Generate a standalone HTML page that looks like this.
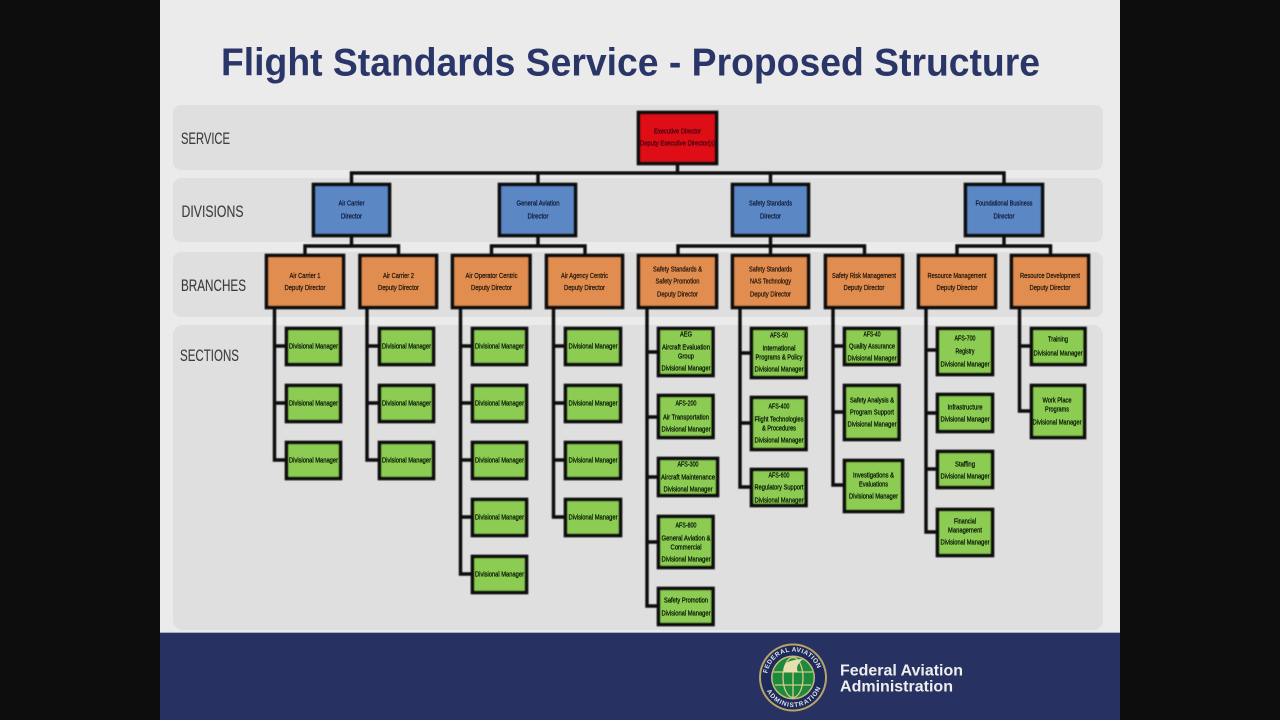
<!DOCTYPE html>
<html><head><meta charset="utf-8"><title>Flight Standards Service - Proposed Structure</title>
<style>
html,body{margin:0;padding:0;width:1280px;height:720px;overflow:hidden;background:#0d0d0d}
svg{display:block}
text{font-family:"Liberation Sans",sans-serif}
.l{font-size:16.5px;fill:#3c3c3c;stroke:#3c3c3c;stroke-width:.12}
.r,.b,.o,.g{text-anchor:middle;font-size:7.5px}
.r{fill:#4a0610;stroke:#4a0610;stroke-width:.3}
.b{fill:#0b1a38;stroke:#0b1a38;stroke-width:.25}
.o{fill:#22150a;stroke:#22150a;stroke-width:.25}
.g{fill:#051203;stroke:#051203;stroke-width:.25}
.bx{stroke:#0a0a0a;stroke-width:3.600}
.ln{stroke:#0a0a0a;stroke-width:3.400;fill:none;stroke-linejoin:miter}
</style></head><body>
<svg width="1280" height="720" viewBox="0 0 1280 720" xmlns="http://www.w3.org/2000/svg">
<defs>
<filter id="s" x="-2%" y="-2%" width="104%" height="104%"><feGaussianBlur stdDeviation="0.4"/></filter>
<filter id="t" x="-2%" y="-2%" width="104%" height="104%"><feGaussianBlur stdDeviation="0.3"/></filter>
<path id="arcTop" d="M767 677.5 A26 26 0 0 1 819 677.500"/>
<path id="arcBot" d="M763.500 677.5 A29.500 29.500 0 0 0 822.500 677.500"/>
</defs>
<rect x="160" y="0" width="960" height="720" fill="#ebebeb"/>
<text x="221" y="75.500" font-size="38.500" font-weight="bold" fill="#2a3668" textLength="819" lengthAdjust="spacingAndGlyphs">Flight Standards Service - Proposed Structure</text>
<g fill="#dfdfdf">
<rect x="173" y="105" width="930" height="65" rx="8"/>
<rect x="173" y="178" width="930" height="64" rx="8"/>
<rect x="173" y="252" width="930" height="65" rx="8"/>
<rect x="173" y="325" width="930" height="305" rx="10"/>
</g>
<g filter="url(#t)">
<text class="l" x="181" y="144" textLength="49" lengthAdjust="spacingAndGlyphs">SERVICE</text>
<text class="l" x="181.500" y="217" textLength="62" lengthAdjust="spacingAndGlyphs">DIVISIONS</text>
<text class="l" x="181" y="291" textLength="65" lengthAdjust="spacingAndGlyphs">BRANCHES</text>
<text class="l" x="180" y="361" textLength="59" lengthAdjust="spacingAndGlyphs">SECTIONS</text>
</g>
<g filter="url(#s)">
<g class="ln">
<path d="M677.500 165V173M351.500 183V173H1004V183M538 173V183M770.500 173V183"/>
<path d="M351.500 237V246M305 254V246H398.500V254"/>
<path d="M538 237V246M491.500 254V246H585V254"/>
<path d="M770.500 237V246M678 254V246H864.500V254M770.500 246V254"/>
<path d="M1004 237V246M957 254V246H1050.500V254"/>
<path d="M274.500 309V460H285M274.500 346H285M274.500 403H285"/>
<path d="M367 309V460H378M367 346H378M367 403H378"/>
<path d="M460.500 309V574H471M460.500 346H471M460.500 403H471M460.500 460H471M460.500 517H471"/>
<path d="M553.500 309V517H564M553.500 346H564M553.500 403H564M553.500 460H564"/>
<path d="M647 309V606H657M647 352H657M647 417H657M647 477H657M647 542H657"/>
<path d="M740 309V487H750M740 353H750M740 423H750"/>
<path d="M833 309V485H843M833 346H843M833 412H843"/>
<path d="M926 309V532H936M926 350H936M926 413H936M926 469H936"/>
<path d="M1019.500 309V411H1030M1019.500 346H1030"/>
</g>
<rect class="bx" x="638.500" y="112.500" width="78" height="51" fill="#de0a16"/>
<g fill="#5b87c5">
<rect class="bx" x="313.500" y="184.500" width="76" height="51"/>
<rect class="bx" x="499.500" y="184.500" width="76" height="51"/>
<rect class="bx" x="732.500" y="184.500" width="76" height="51"/>
<rect class="bx" x="965.500" y="184.500" width="77" height="51"/>
</g>
<g fill="#e08d50">
<rect class="bx" x="266.500" y="255.500" width="77" height="52"/>
<rect class="bx" x="360" y="255.500" width="76.500" height="52"/>
<rect class="bx" x="452.500" y="255.500" width="77.500" height="52"/>
<rect class="bx" x="546.500" y="255.500" width="76" height="52"/>
<rect class="bx" x="638.500" y="255.500" width="78" height="52"/>
<rect class="bx" x="732.500" y="255.500" width="76" height="52"/>
<rect class="bx" x="825.500" y="255.500" width="77" height="52"/>
<rect class="bx" x="918.500" y="255.500" width="77" height="52"/>
<rect class="bx" x="1011.500" y="255.500" width="77" height="52"/>
</g>
<g fill="#8ccc52">
<rect class="bx" x="286.500" y="328.500" width="54" height="36"/><rect class="bx" x="286.500" y="385.500" width="54" height="36"/><rect class="bx" x="286.500" y="442.500" width="54" height="36"/>
<rect class="bx" x="379.500" y="328.500" width="54" height="36"/><rect class="bx" x="379.500" y="385.500" width="54" height="36"/><rect class="bx" x="379.500" y="442.500" width="54" height="36"/>
<rect class="bx" x="472.500" y="328.500" width="54" height="36"/><rect class="bx" x="472.500" y="385.500" width="54" height="36"/><rect class="bx" x="472.500" y="442.500" width="54" height="36"/><rect class="bx" x="472.500" y="499.500" width="54" height="36"/><rect class="bx" x="472.500" y="556.500" width="54" height="36"/>
<rect class="bx" x="565.500" y="328.500" width="55" height="36"/><rect class="bx" x="565.500" y="385.500" width="55" height="36"/><rect class="bx" x="565.500" y="442.500" width="55" height="36"/><rect class="bx" x="565.500" y="499.500" width="55" height="36"/>
<rect class="bx" x="658.500" y="328.500" width="54.500" height="47"/>
<rect class="bx" x="658.500" y="395.500" width="54.500" height="42"/>
<rect class="bx" x="658.500" y="458.500" width="59" height="37"/>
<rect class="bx" x="658.500" y="516.500" width="54.500" height="51"/>
<rect class="bx" x="658.500" y="588.500" width="54.500" height="36"/>
<rect class="bx" x="751.500" y="328.500" width="54.500" height="49"/>
<rect class="bx" x="751.500" y="397.500" width="54.500" height="52"/>
<rect class="bx" x="751.500" y="469.500" width="54.500" height="36"/>
<rect class="bx" x="844.500" y="328.500" width="54.500" height="36"/>
<rect class="bx" x="844.500" y="385.500" width="54.500" height="54"/>
<rect class="bx" x="844.500" y="460.500" width="58" height="51"/>
<rect class="bx" x="937.500" y="328.500" width="55" height="46"/>
<rect class="bx" x="937.500" y="394.500" width="55" height="37"/>
<rect class="bx" x="937.500" y="451.500" width="55" height="36"/>
<rect class="bx" x="937.500" y="509.500" width="55" height="46"/>
<rect class="bx" x="1031.500" y="328.500" width="53.500" height="36"/>
<rect class="bx" x="1031.500" y="385.500" width="53" height="52"/>
</g>
</g>
<g filter="url(#t)">
<text class="r" x="677.500" y="133.500" textLength="47" lengthAdjust="spacingAndGlyphs">Executive Director</text>
<text class="r" x="677.500" y="145.500" textLength="75" lengthAdjust="spacingAndGlyphs">Deputy  Executive Director(s)</text>

<text class="b" x="351.500" y="205.500" textLength="26" lengthAdjust="spacingAndGlyphs">Air Carrier</text><text class="b" x="351.500" y="218.500" textLength="21" lengthAdjust="spacingAndGlyphs">Director</text>
<text class="b" x="538" y="205.500" textLength="43" lengthAdjust="spacingAndGlyphs">General Aviation</text><text class="b" x="538" y="218.500" textLength="21" lengthAdjust="spacingAndGlyphs">Director</text>
<text class="b" x="770.500" y="205.500" textLength="43" lengthAdjust="spacingAndGlyphs">Safety Standards</text><text class="b" x="770.500" y="218.500" textLength="21" lengthAdjust="spacingAndGlyphs">Director</text>
<text class="b" x="1004" y="205.500" textLength="57" lengthAdjust="spacingAndGlyphs">Foundational Business</text><text class="b" x="1004" y="218.500" textLength="21" lengthAdjust="spacingAndGlyphs">Director</text>

<text class="o" x="305" y="278" textLength="31" lengthAdjust="spacingAndGlyphs">Air Carrier 1</text><text class="o" x="305" y="290" textLength="41" lengthAdjust="spacingAndGlyphs">Deputy Director</text>
<text class="o" x="398.500" y="278" textLength="31" lengthAdjust="spacingAndGlyphs">Air Carrier 2</text><text class="o" x="398.500" y="290" textLength="41" lengthAdjust="spacingAndGlyphs">Deputy Director</text>
<text class="o" x="491.500" y="278" textLength="52" lengthAdjust="spacingAndGlyphs">Air Operator Centric</text><text class="o" x="491.500" y="290" textLength="41" lengthAdjust="spacingAndGlyphs">Deputy Director</text>
<text class="o" x="584.500" y="278" textLength="47" lengthAdjust="spacingAndGlyphs">Air Agency Centric</text><text class="o" x="584.500" y="290" textLength="41" lengthAdjust="spacingAndGlyphs">Deputy Director</text>
<text class="o" x="677.500" y="271.500" textLength="49" lengthAdjust="spacingAndGlyphs">Safety Standards &amp;</text><text class="o" x="677.500" y="283.500" textLength="44" lengthAdjust="spacingAndGlyphs">Safety Promotion</text><text class="o" x="677.500" y="296.500" textLength="41" lengthAdjust="spacingAndGlyphs">Deputy Director</text>
<text class="o" x="770.500" y="271.500" textLength="43" lengthAdjust="spacingAndGlyphs">Safety Standards</text><text class="o" x="770.500" y="283.500" textLength="41" lengthAdjust="spacingAndGlyphs">NAS Technology</text><text class="o" x="770.500" y="296.500" textLength="41" lengthAdjust="spacingAndGlyphs">Deputy Director</text>
<text class="o" x="864" y="278" textLength="64" lengthAdjust="spacingAndGlyphs">Safety Risk Management</text><text class="o" x="864" y="290" textLength="41" lengthAdjust="spacingAndGlyphs">Deputy Director</text>
<text class="o" x="957" y="278" textLength="59" lengthAdjust="spacingAndGlyphs">Resource Management</text><text class="o" x="957" y="290" textLength="41" lengthAdjust="spacingAndGlyphs">Deputy Director</text>
<text class="o" x="1050" y="278" textLength="60" lengthAdjust="spacingAndGlyphs">Resource Development</text><text class="o" x="1050" y="290" textLength="41" lengthAdjust="spacingAndGlyphs">Deputy Director</text>

<text class="g" x="313.500" y="348.500" textLength="49" lengthAdjust="spacingAndGlyphs">Divisional Manager</text><text class="g" x="313.500" y="405.500" textLength="49" lengthAdjust="spacingAndGlyphs">Divisional Manager</text><text class="g" x="313.500" y="462.500" textLength="49" lengthAdjust="spacingAndGlyphs">Divisional Manager</text>
<text class="g" x="406.500" y="348.500" textLength="49" lengthAdjust="spacingAndGlyphs">Divisional Manager</text><text class="g" x="406.500" y="405.500" textLength="49" lengthAdjust="spacingAndGlyphs">Divisional Manager</text><text class="g" x="406.500" y="462.500" textLength="49" lengthAdjust="spacingAndGlyphs">Divisional Manager</text>
<text class="g" x="499.500" y="348.500" textLength="49" lengthAdjust="spacingAndGlyphs">Divisional Manager</text><text class="g" x="499.500" y="405.500" textLength="49" lengthAdjust="spacingAndGlyphs">Divisional Manager</text><text class="g" x="499.500" y="462.500" textLength="49" lengthAdjust="spacingAndGlyphs">Divisional Manager</text><text class="g" x="499.500" y="519.500" textLength="49" lengthAdjust="spacingAndGlyphs">Divisional Manager</text><text class="g" x="499.500" y="576.500" textLength="49" lengthAdjust="spacingAndGlyphs">Divisional Manager</text>
<text class="g" x="593" y="348.500" textLength="49" lengthAdjust="spacingAndGlyphs">Divisional Manager</text><text class="g" x="593" y="405.500" textLength="49" lengthAdjust="spacingAndGlyphs">Divisional Manager</text><text class="g" x="593" y="462.500" textLength="49" lengthAdjust="spacingAndGlyphs">Divisional Manager</text><text class="g" x="593" y="519.500" textLength="49" lengthAdjust="spacingAndGlyphs">Divisional Manager</text>

<text class="g" x="686" y="336.500" textLength="12" lengthAdjust="spacingAndGlyphs">AEG</text><text class="g" x="686" y="349.500" textLength="48" lengthAdjust="spacingAndGlyphs">Aircraft Evaluation</text><text class="g" x="686" y="358.500" textLength="16" lengthAdjust="spacingAndGlyphs">Group</text><text class="g" x="686" y="370.500" textLength="49" lengthAdjust="spacingAndGlyphs">Divisional Manager</text>
<text class="g" x="686" y="405.500" textLength="21" lengthAdjust="spacingAndGlyphs">AFS-200</text><text class="g" x="686" y="419.500" textLength="46" lengthAdjust="spacingAndGlyphs">Air Transportation</text><text class="g" x="686" y="431.500" textLength="49" lengthAdjust="spacingAndGlyphs">Divisional Manager</text>
<text class="g" x="688" y="466.500" textLength="21" lengthAdjust="spacingAndGlyphs">AFS-300</text><text class="g" x="688" y="479.500" textLength="54" lengthAdjust="spacingAndGlyphs">Aircraft Maintenance</text><text class="g" x="688" y="491.500" textLength="49" lengthAdjust="spacingAndGlyphs">Divisional Manager</text>
<text class="g" x="686" y="527.500" textLength="21" lengthAdjust="spacingAndGlyphs">AFS-800</text><text class="g" x="686" y="540.500" textLength="49" lengthAdjust="spacingAndGlyphs">General Aviation &amp;</text><text class="g" x="686" y="549.500" textLength="31" lengthAdjust="spacingAndGlyphs">Commercial</text><text class="g" x="686" y="561.500" textLength="49" lengthAdjust="spacingAndGlyphs">Divisional Manager</text>
<text class="g" x="686" y="602.500" textLength="44" lengthAdjust="spacingAndGlyphs">Safety Promotion</text><text class="g" x="686" y="615.500" textLength="49" lengthAdjust="spacingAndGlyphs">Divisional Manager</text>

<text class="g" x="779" y="337.500" textLength="18" lengthAdjust="spacingAndGlyphs">AFS-50</text><text class="g" x="779" y="350.500" textLength="33" lengthAdjust="spacingAndGlyphs">International</text><text class="g" x="779" y="359.500" textLength="47" lengthAdjust="spacingAndGlyphs">Programs &amp; Policy</text><text class="g" x="779" y="371.500" textLength="49" lengthAdjust="spacingAndGlyphs">Divisional Manager</text>
<text class="g" x="779" y="408.500" textLength="21" lengthAdjust="spacingAndGlyphs">AFS-400</text><text class="g" x="779" y="421.500" textLength="49" lengthAdjust="spacingAndGlyphs">Flight Technologies</text><text class="g" x="779" y="430.500" textLength="34" lengthAdjust="spacingAndGlyphs">&amp; Procedures</text><text class="g" x="779" y="442.500" textLength="49" lengthAdjust="spacingAndGlyphs">Divisional Manager</text>
<text class="g" x="779" y="477.500" textLength="21" lengthAdjust="spacingAndGlyphs">AFS-600</text><text class="g" x="779" y="489.500" textLength="49" lengthAdjust="spacingAndGlyphs">Regulatory Support</text><text class="g" x="779" y="502.500" textLength="49" lengthAdjust="spacingAndGlyphs">Divisional Manager</text>

<text class="g" x="872" y="336.500" textLength="17" lengthAdjust="spacingAndGlyphs">AFS-40</text><text class="g" x="872" y="348.500" textLength="46" lengthAdjust="spacingAndGlyphs">Quality Assurance</text><text class="g" x="872" y="360.500" textLength="49" lengthAdjust="spacingAndGlyphs">Divisional Manager</text>
<text class="g" x="872" y="402.500" textLength="44" lengthAdjust="spacingAndGlyphs">Safety Analysis &amp;</text><text class="g" x="872" y="414.500" textLength="44" lengthAdjust="spacingAndGlyphs">Program Support</text><text class="g" x="872" y="426.500" textLength="49" lengthAdjust="spacingAndGlyphs">Divisional Manager</text>
<text class="g" x="873.500" y="477.500" textLength="41" lengthAdjust="spacingAndGlyphs">Investigations &amp;</text><text class="g" x="873.500" y="486.500" textLength="29" lengthAdjust="spacingAndGlyphs">Evaluations</text><text class="g" x="873.500" y="498.500" textLength="49" lengthAdjust="spacingAndGlyphs">Divisional Manager</text>

<text class="g" x="965" y="340.500" textLength="21" lengthAdjust="spacingAndGlyphs">AFS-700</text><text class="g" x="965" y="353.500" textLength="19" lengthAdjust="spacingAndGlyphs">Registry</text><text class="g" x="965" y="366.500" textLength="49" lengthAdjust="spacingAndGlyphs">Divisional Manager</text>
<text class="g" x="965" y="409.500" textLength="35" lengthAdjust="spacingAndGlyphs">Infrastructure</text><text class="g" x="965" y="421.500" textLength="49" lengthAdjust="spacingAndGlyphs">Divisional Manager</text>
<text class="g" x="965" y="466.500" textLength="20" lengthAdjust="spacingAndGlyphs">Staffing</text><text class="g" x="965" y="478.500" textLength="49" lengthAdjust="spacingAndGlyphs">Divisional Manager</text>
<text class="g" x="965" y="523.500" textLength="22" lengthAdjust="spacingAndGlyphs">Financial</text><text class="g" x="965" y="532.500" textLength="34" lengthAdjust="spacingAndGlyphs">Management</text><text class="g" x="965" y="544.500" textLength="49" lengthAdjust="spacingAndGlyphs">Divisional Manager</text>

<text class="g" x="1058" y="341.500" textLength="20" lengthAdjust="spacingAndGlyphs">Training</text><text class="g" x="1058" y="355.500" textLength="49" lengthAdjust="spacingAndGlyphs">Divisional Manager</text>
<text class="g" x="1057" y="402.500" textLength="29" lengthAdjust="spacingAndGlyphs">Work Place</text><text class="g" x="1057" y="411.500" textLength="24" lengthAdjust="spacingAndGlyphs">Programs</text><text class="g" x="1057" y="424.500" textLength="49" lengthAdjust="spacingAndGlyphs">Divisional Manager</text>
</g>
<rect x="160" y="633" width="960" height="87" fill="#273262"/>
<rect x="160" y="632" width="960" height="1" fill="#aab0c4"/>
<g filter="url(#t)">
<circle cx="793" cy="677.500" r="34" fill="#b9a468"/>
<circle cx="793" cy="677.500" r="32" fill="#1c2a5c"/>
<circle cx="793" cy="677.500" r="22" fill="#c9b878"/>
<circle cx="793" cy="677.500" r="20.500" fill="#1f8a3c"/>
<g stroke="#d8c98a" stroke-width="1.300" fill="none">
<ellipse cx="793" cy="677.500" rx="10" ry="20"/>
<path d="M773.500 672H812.500M775 685H811M793 672V697"/>
</g>
<path d="M784 672C782 662 790 660 803 659C797 664 796 668 798 672Z" fill="#e8dfb0"/>
<text font-size="6.500" font-weight="bold" fill="#e2e2e2" textLength="68" lengthAdjust="spacing"><textPath href="#arcTop" startOffset="5%">FEDERAL AVIATION</textPath></text>
<text font-size="6.500" font-weight="bold" fill="#e2e2e2" textLength="68" lengthAdjust="spacing"><textPath href="#arcBot" startOffset="15%">ADMINISTRATION</textPath></text>
<text x="840" y="675.500" font-size="16" font-weight="bold" fill="#eeeeee" textLength="123" lengthAdjust="spacingAndGlyphs">Federal Aviation</text>
<text x="840" y="691.500" font-size="16" font-weight="bold" fill="#eeeeee" textLength="113" lengthAdjust="spacingAndGlyphs">Administration</text>
</g>
</svg>
</body></html>
